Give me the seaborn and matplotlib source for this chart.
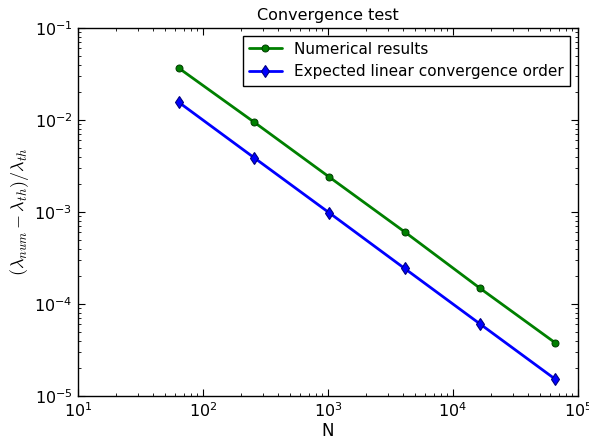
import numpy as np
import pandas as pd
import matplotlib
matplotlib.use('Agg')
import matplotlib.pyplot as plt
import matplotlib.ticker as mticker
import seaborn as sns

# values
N = [64, 256, 1024, 4096, 16384, 65536]
numerical = [0.0367, 0.0095, 0.0024, 0.00061, 0.000149, 0.000038]
expected = [0.0156, 0.0039, 0.00098, 0.000244, 0.000061, 0.0000153]

sns.set_style('ticks')
plt.rcParams['font.family'] = ['DejaVu Sans']
plt.rcParams['xtick.direction'] = 'in'
plt.rcParams['ytick.direction'] = 'in'
plt.rcParams['xtick.top'] = True
plt.rcParams['ytick.right'] = True
plt.rcParams['axes.linewidth'] = 1.0
plt.rcParams['axes.edgecolor'] = 'black'
plt.rcParams['text.color'] = 'black'
plt.rcParams['axes.labelcolor'] = 'black'
plt.rcParams['xtick.color'] = 'black'
plt.rcParams['ytick.color'] = 'black'
plt.rcParams['xtick.minor.visible'] = True
plt.rcParams['ytick.minor.visible'] = True
plt.rcParams['mathtext.fontset'] = 'cm'

df = pd.DataFrame({'N': N, 'Numerical results': numerical,
                   'Expected linear convergence order': expected})

fig = plt.figure(figsize=(5.89, 4.42), dpi=100)
ax = fig.add_axes([0.1324, 0.104, 0.8489, 0.8326])

sns.lineplot(data=df, x='N', y='Numerical results', ax=ax, color='g',
             marker='o', markersize=5, linewidth=2, markeredgecolor='#004000',
             label='Numerical results')
sns.lineplot(data=df, x='N', y='Expected linear convergence order', ax=ax,
             color='b', marker='d', markersize=6, linewidth=2,
             markeredgecolor='#000080', markeredgewidth=0.8,
             label='Expected linear convergence order')

ax.set_xscale('log')
ax.set_yscale('log')
ax.set_xlim(10, 1e5)
ax.set_ylim(1e-5, 1e-1)
for axis in (ax.xaxis, ax.yaxis):
    axis.set_major_locator(mticker.LogLocator(base=10))
    axis.set_minor_locator(mticker.LogLocator(base=10, subs=np.arange(2, 10), numticks=20))
    axis.set_minor_formatter(mticker.NullFormatter())
ax.tick_params(which='major', length=5, width=0.8, labelsize=11.5, pad=4)
ax.tick_params(which='minor', length=2.5, width=0.6)
ax.set_title('Convergence test', fontsize=11.5)
ax.set_xlabel('N', fontsize=12, labelpad=1)
ax.set_ylabel(r'$(\lambda_{num}-\lambda_{th})/\lambda_{th}$', fontsize=13, labelpad=2)

leg = ax.legend(loc='upper right', fontsize=11, fancybox=False, framealpha=1,
                edgecolor='black', borderaxespad=0.5, handlelength=2.2)
leg.get_frame().set_linewidth(1.0)

fig.savefig('out.png', dpi=100)
